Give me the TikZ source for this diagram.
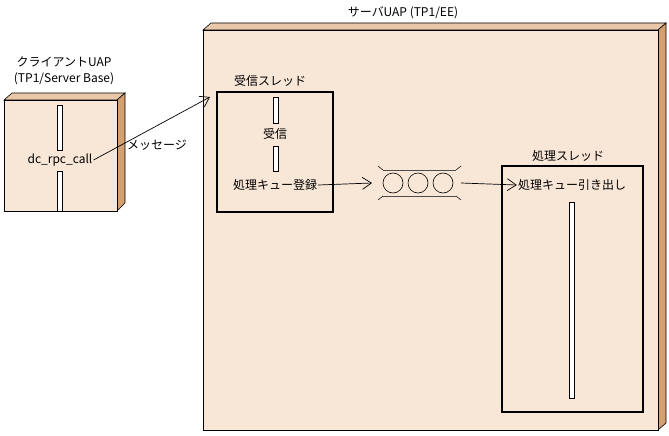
\documentclass[tikz,border=0pt]{standalone}
\usepackage{fontspec}
\setmainfont{Noto Sans CJK JP}
\usetikzlibrary{arrows.meta}
\definecolor{face}{HTML}{F8E6D6}
\definecolor{sidec}{HTML}{D4A070}
\definecolor{topc}{HTML}{E8C8A8}
\begin{document}
\begin{tikzpicture}[x=1pt,y=-1pt,
 face/.style={fill=face,draw=black,line width=0.6pt},
 side/.style={fill=sidec,draw=black,line width=0.6pt},
 thr/.style={draw=black,line width=1.6pt},
 bar/.style={fill=white,draw=black,line width=0.6pt},
 lbl/.style={font=\fontsize{12}{14}\selectfont,inner sep=1pt},
 arr/.style={-{Straight Barb[length=9pt,width=12pt,line width=0.7pt]},line width=0.7pt}]
\useasboundingbox (0,0) rectangle (669,436);
% client box
\draw[fill=topc,draw=black,line width=0.6pt] (4,100)--(12,93)--(125,93)--(117,100)--cycle;
\draw[side] (117,100)--(125,93)--(125,203)--(117,211)--cycle;
\draw[face] (4,100) rectangle (117,211);
\node[lbl] (cl1) at (64,62) {クライアントUAP};
\node[lbl] (cl2) at (64,79) {(TP1/Server Base)};
\draw[bar] (57,105) rectangle (62,150);
\draw[bar] (57,171) rectangle (62,211);
\node[lbl,fill=face] (call) at (60,160) {dc\_rpc\_call};
% server box
\draw[fill=topc,draw=black,line width=0.6pt] (203,30)--(211,23)--(666,23)--(658,30)--cycle;
\draw[side] (658,30)--(666,23)--(666,423)--(658,430)--cycle;
\draw[face] (203,30) rectangle (658,430);
\node[lbl] (srv) at (403,13) {サーバUAP (TP1/EE)};
% receive thread
\node[lbl] (rtl) at (270,81) {受信スレッド};
\draw[thr] (217,92) rectangle (333,212);
\draw[bar] (273,97) rectangle (278,123);
\draw[bar] (273,146) rectangle (278,171);
\node[lbl] (recv) at (275,134) {受信};
\node[lbl] (reg) at (275,185) {処理キュー登録};
% message arrow
\coordinate (mend) at (210,97);
\draw[arr] (call.east) -- (mend);
\node[lbl] (msg) at (157,145) {メッセージ};
% queue
\foreach \i/\x in {1/393,2/418,3/443}{\draw[line width=0.6pt] (\x,183) circle (10);}
\coordinate (qin) at (372,183);
\coordinate (qout) at (461,183);
\draw[line width=0.8pt,draw=black!70] (383,170)--(456,170) (383,196)--(456,196);
\draw[line width=0.5pt] (378,166)--(383,170) (456,170)--(461,166) (378,200)--(383,196) (456,196)--(461,200);
\draw[arr] (reg.east) -- (qin);
% processing thread
\node[lbl] (ptl) at (568,156) {処理スレッド};
\draw[thr] (502,166) rectangle (643,412);
\node[lbl] (deq) at (572,185) {処理キュー引き出し};
\draw[arr] (qout) -- (deq.west);
\draw[bar] (569,202) rectangle (574,398);
\end{tikzpicture}
\end{document}
